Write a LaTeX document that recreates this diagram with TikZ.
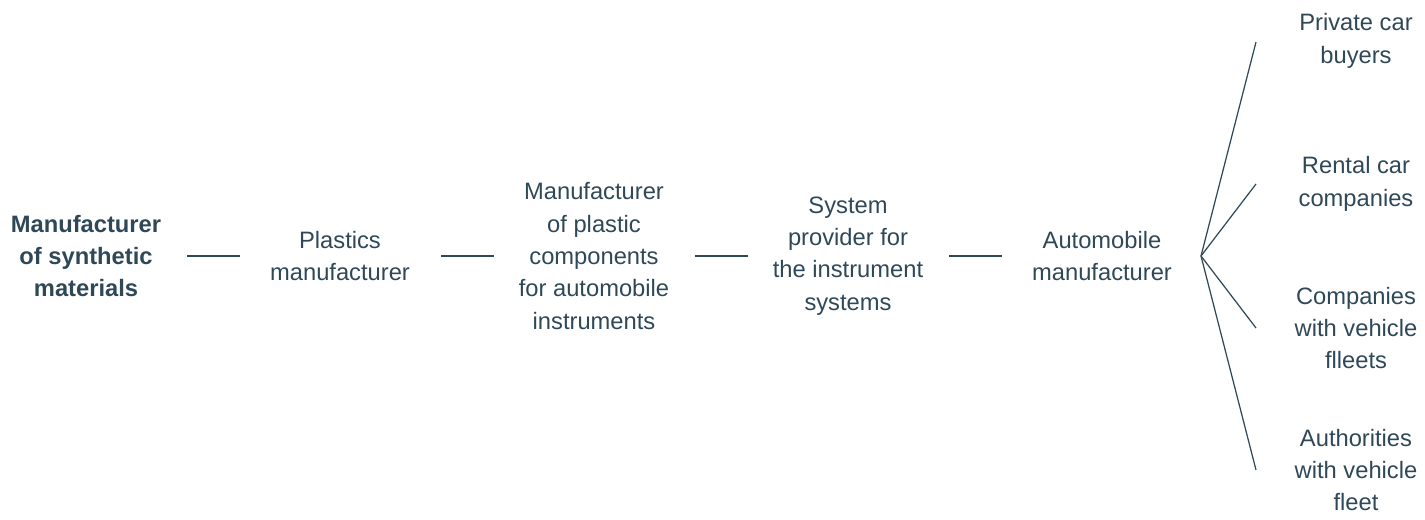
\documentclass[tikz,border=0pt]{standalone}
\usepackage{fontspec}
\setmainfont{Liberation Sans}
\definecolor{slate}{HTML}{2F4858}
\begin{document}
\begin{tikzpicture}[x=0.02cm,y=-0.02cm,
                    stage/.style={text=slate, align=center, font=\fontsize{13.5}{18.4}\selectfont},
                    link/.style={slate, line width=0.7pt}]
                          \clip (0,0) rectangle (1425,520);
                          \node[stage, font=\fontsize{13.5}{18.4}\selectfont\bfseries] (syn) at (86,256) {Manufacturer\\of synthetic\\materials};
                          \node[stage] (pla) at (340,256) {Plastics\\manufacturer};
                          \node[stage] (com) at (594,256) {Manufacturer\\of plastic\\components\\for automobile\\instruments};
                          \node[stage] (sys) at (848,256) {System\\provider for\\the instrument\\systems};
                          \node[stage] (aut) at (1102,256) {Automobile\\manufacturer};
                          \node[stage] (pri) at (1356,41) {Private car\\buyers};
                          \node[stage] (ren) at (1356,184) {Rental car\\companies};
                          \node[stage] (fle) at (1356,328) {Companies\\with vehicle\\flleets};
                          \node[stage] (ath) at (1356,470) {Authorities\\with vehicle\\fleet};
                          \coordinate (a1) at (187,256); \coordinate (a2) at (240,256);
                          \coordinate (b1) at (441,256); \coordinate (b2) at (494,256);
                          \coordinate (c1) at (695,256); \coordinate (c2) at (748,256);
                          \coordinate (d1) at (949,256); \coordinate (d2) at (1002,256);
                          \coordinate (fan) at (1201,256);
                          \coordinate (e1) at (1256,42);
                          \coordinate (e2) at (1256,184);
                          \coordinate (e3) at (1256,328);
                          \coordinate (e4) at (1256,470);
                          \draw[link] (a1) -- (a2);
                          \draw[link] (b1) -- (b2);
                          \draw[link] (c1) -- (c2);
                          \draw[link] (d1) -- (d2);
                          \draw[link] (fan) -- (e1);
                          \draw[link] (fan) -- (e2);
                          \draw[link] (fan) -- (e3);
                          \draw[link] (fan) -- (e4);
                      \end{tikzpicture}
\end{document}
